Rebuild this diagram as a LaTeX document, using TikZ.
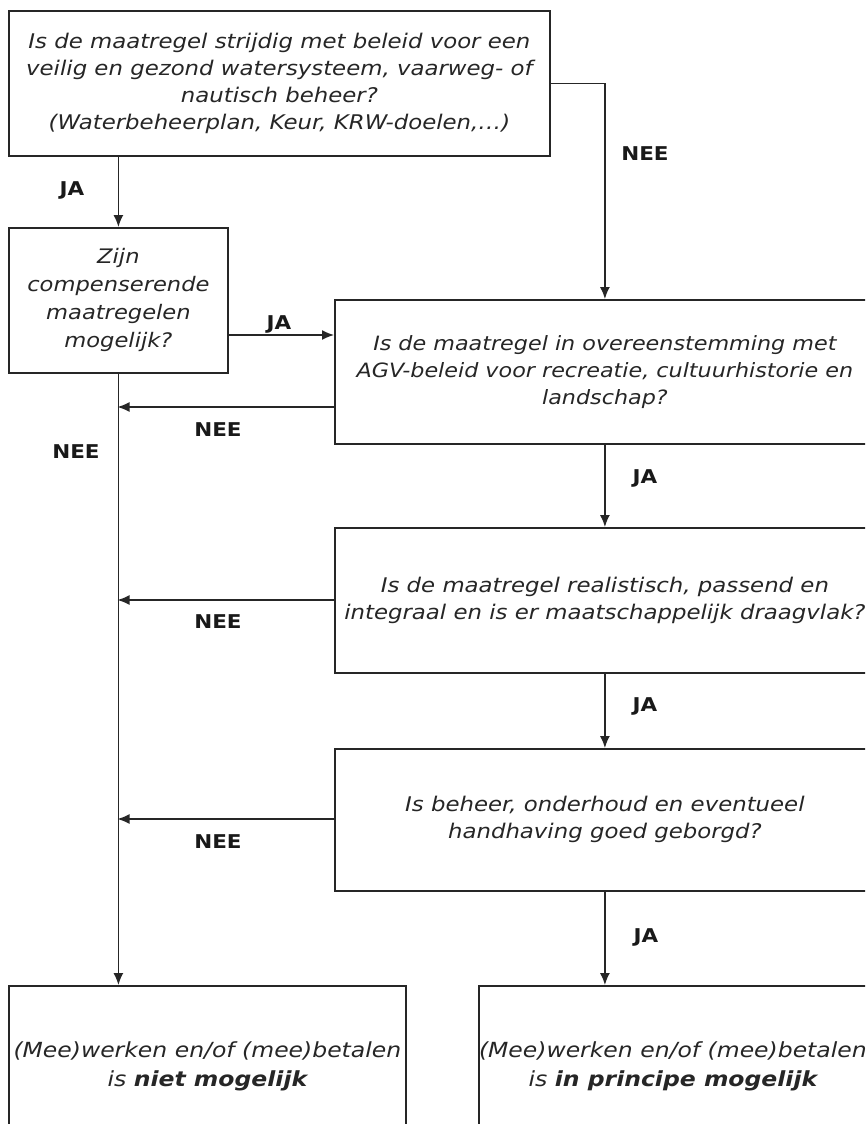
\documentclass[tikz,border=0pt]{standalone}
\usepackage{fontspec}
\setmainfont{DejaVu Sans}[FakeStretch=1.13]
\usetikzlibrary{arrows.meta}
\begin{document}
\begin{tikzpicture}[x=1pt,y=-1pt,
  box/.style={draw=black!85, line width=1.8pt, rectangle, align=center, inner sep=0pt,
    anchor=north west, font=\itshape\fontsize{20.2}{27}\selectfont, text=black!85},
  lbl/.style={font=\bfseries\fontsize{19}{22}\selectfont, text=black!90},
  conn/.style={line width=1.5pt, draw=black!85, -{Latex[length=12pt,width=10pt]}}]
\clip (0,0) rectangle (865,1124);
\fill[white] (0,0) rectangle (865,1124);
\node[box, minimum width=541pt, minimum height=145pt] (q1) at (8,10)
  {Is de maatregel strijdig met beleid voor een\\veilig en gezond watersysteem, vaarweg- of\\nautisch beheer?\\(Waterbeheerplan, Keur, KRW-doelen,…)};
\node[box, minimum width=219pt, minimum height=145pt, font=\itshape\fontsize{20}{28}\selectfont] (q2) at (8,227)
  {Zijn\\compenserende\\maatregelen\\mogelijk?};
\node[box, minimum width=540pt, minimum height=144pt, font=\itshape\fontsize{19.7}{27}\selectfont] (q3) at (334,299)
  {Is de maatregel in overeenstemming met\\AGV-beleid voor recreatie, cultuurhistorie en\\landschap?};
\node[box, minimum width=540pt, minimum height=145pt] (q4) at (334,527)
  {Is de maatregel realistisch, passend en\\integraal en is er maatschappelijk draagvlak?};
\node[box, minimum width=540pt, minimum height=142pt] (q5) at (334,748)
  {Is beheer, onderhoud en eventueel\\handhaving goed geborgd?};
\node[box, minimum width=397pt, minimum height=160pt, font=\itshape\fontsize{20.8}{29}\selectfont] (q6) at (8,985)
  {(Mee)werken en/of (mee)betalen\\is \textbf{niet mogelijk}};
\node[box, minimum width=388pt, minimum height=160pt, font=\itshape\fontsize{20.8}{29}\selectfont] (q7) at (478,985)
  {(Mee)werken en/of (mee)betalen\\is \textbf{in principe mogelijk}};
\coordinate (s1) at (117.5,407);
\coordinate (s2) at (117.5,600);
\coordinate (s3) at (117.5,819);
\draw[conn] (q1.south -| q2.north) -- (q2.north);
\draw[conn] (q1.east) -| (q3.north);
\draw[conn] (q2.east |- 0,335) -- (q3.west |- 0,335);
\draw[conn] (q3.west |- s1) -- (s1);
\draw[conn] (q4.west |- s2) -- (s2);
\draw[conn] (q5.west |- s3) -- (s3);
\draw[conn] (q2.south) -- (q2.south |- q6.north);
\draw[conn] (q3.south) -- (q4.north);
\draw[conn] (q4.south) -- (q5.north);
\draw[conn] (q5.south) -- (q5.south |- q7.north);
\node[lbl] (l1) at (72,190) {JA};
\node[lbl] (l2) at (645,154) {NEE};
\node[lbl] (l3) at (279,324) {JA};
\node[lbl] (l4) at (218,430) {NEE};
\node[lbl] (l5) at (76,452) {NEE};
\node[lbl] (l6) at (645,478) {JA};
\node[lbl] (l7) at (218,622) {NEE};
\node[lbl] (l8) at (645,706) {JA};
\node[lbl] (l9) at (218,842) {NEE};
\node[lbl] (l10) at (646,937) {JA};
\end{tikzpicture}
\end{document}
